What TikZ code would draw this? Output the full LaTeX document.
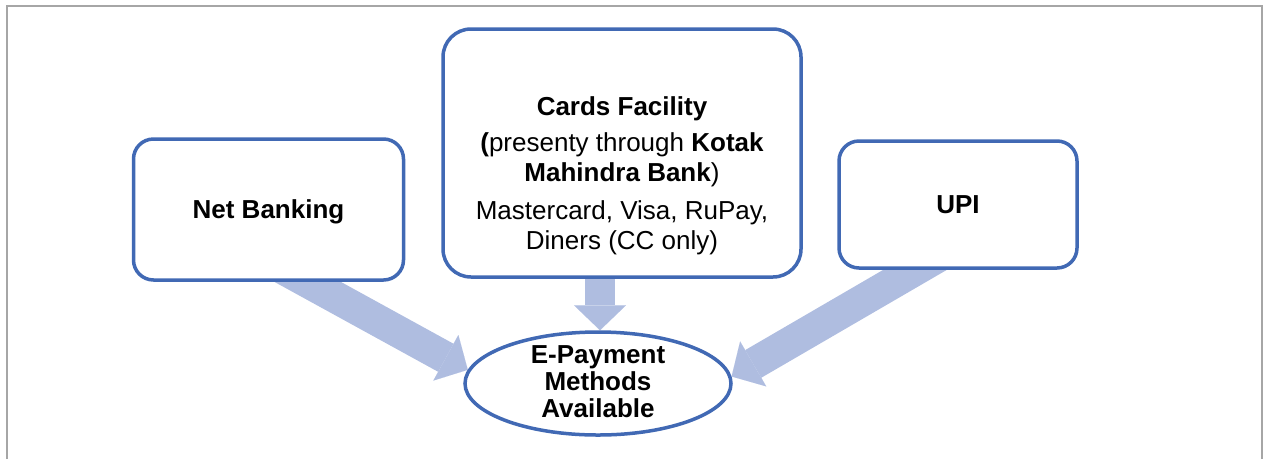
\documentclass[tikz,border=0pt]{standalone}
\usepackage{fontspec}
\setmainfont{Liberation Sans}
\usetikzlibrary{arrows.meta,shapes.geometric,calc}
\pgfdeclarelayer{bg}
\pgfsetlayers{bg,main}
\definecolor{boxblue}{RGB}{65,105,180}
\definecolor{arrowblue}{RGB}{175,189,224}
\definecolor{framegray}{RGB}{166,166,166}
\begin{document}
\begin{tikzpicture}[x=1pt,y=-1pt,
  box/.style={draw=boxblue, line width=3.5pt, fill=white, rounded corners=20pt, inner sep=0pt},
  oval/.style={ellipse, draw=boxblue, line width=3.5pt, fill=white, inner sep=0pt},
  txt/.style={font=\fontsize{26}{29.5}\selectfont, align=center, inner sep=0pt},
  btxt/.style={font=\fontsize{26}{29.5}\selectfont\bfseries, align=center, inner sep=0pt},
  bigarrow/.style={draw=arrowblue, line width=#1, -{Triangle[length=25pt 0 0, width=52pt 0 0, line width=0.01pt, fill=arrowblue]}},
  bigarrow/.default=32pt
]
\useasboundingbox (0,0) rectangle (1263,459);
\draw[framegray, line width=2.5pt] (7,459) -- (7,6) -- (1262,6) -- (1262,459);

\node[box, minimum width=270pt, minimum height=141pt] (nb) at (268.5,209.5) {};
\node[box, rounded corners=28pt, minimum width=358pt, minimum height=248pt] (cf) at (622,153) {};
\node[box, minimum width=238pt, minimum height=127pt] (upi) at (958,204.5) {};
\node[oval, minimum width=266pt, minimum height=103pt] (ep) at (598,383.5) {};

\node[btxt, anchor=base] (nbt) at ($(nb.center)+(0,8.5)$) {Net Banking};
\node[btxt, anchor=base] (upit) at ($(upi.center)+(0,8.5)$) {UPI};
\node[txt, anchor=base] (cft) at (622,249) {\textbf{Cards Facility}\\[7pt]
  \textbf{(}presenty through \textbf{Kotak}\\ \textbf{Mahindra Bank})\\[9pt]
  Mastercard, Visa, RuPay,\\ Diners (CC only)};
\node[font=\fontsize{26}{27}\selectfont\bfseries, align=center, inner sep=0pt, anchor=base] (ept) at (598,417) {E-Payment\\Methods\\Available};

\coordinate (nbtail) at ($(nb.center)+(-12,44.3)$);
\coordinate (cftail) at ($(cf.south)+(-22,-20)$);
\coordinate (upitail) at ($(upi.center)+(7,36.3)$);
\begin{pgfonlayer}{bg}
\draw[bigarrow] (nbtail) -- (ep.174);
\draw[bigarrow=30pt] (cftail) -- ($(ep.north)+(2,0)$);
\draw[bigarrow] (upitail) -- (ep.3);
\end{pgfonlayer}
\end{tikzpicture}
\end{document}
